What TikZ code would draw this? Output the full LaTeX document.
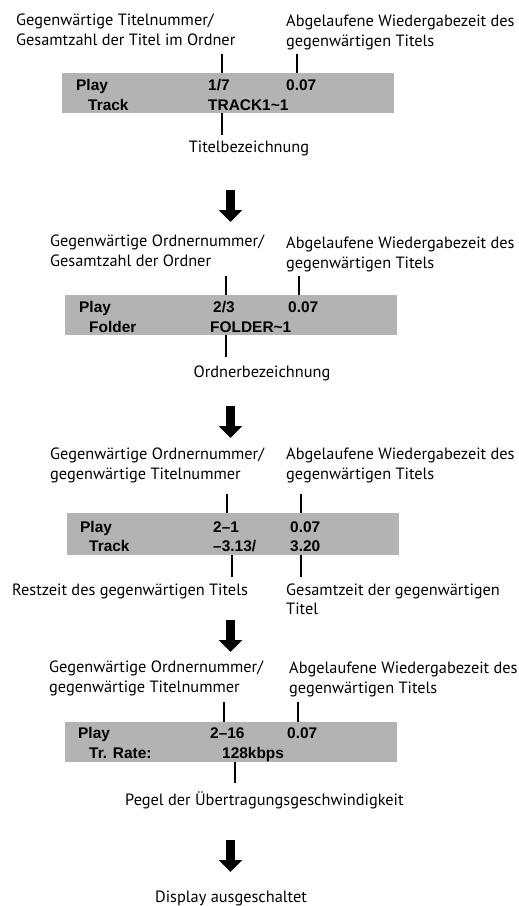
\documentclass[tikz,border=0pt]{standalone}
\usepackage{fontspec}
\usetikzlibrary{arrows.meta,positioning,calc}
\newfontfamily\lblfont{PT Sans}
\newfontfamily\lcdfont{Liberation Sans}
\definecolor{Panel}{HTML}{B3B3B3}

\begin{document}
\begin{tikzpicture}[x=1bp,y=-1bp,
  lbl/.style={anchor=base west,inner sep=0pt,font=\lblfont\fontsize{16.4}{20}\selectfont},
  lcd/.style={anchor=base west,inner sep=0pt,font=\lcdfont\bfseries\fontsize{15.5}{18}\selectfont},
  screen/.style={fill=Panel,draw=none,inner sep=0pt,anchor=north west,minimum width=332bp,minimum height=40bp},
  tick/.style={black,line width=1.2bp},
  flow/.style={line width=9bp,-{Triangle[length=12bp,width=23bp]}}]
  \useasboundingbox (0,0) rectangle (519,906);

  % display 1: track number
  \node[screen] (disp1) at (62,73) {};
  \node[lcd] (play1) at (76,90) {Play};
  \node[lcd] (mode1) at (88,110) {Track};
  \node[lcd] (num1) at (208,90) {1/7};
  \node[lcd] (time1) at (286,90) {0.07};
  \node[lcd] (name1) at (208,110) {TRACK1\textasciitilde1};
  \node[lbl] (numA1) at (16,25) {Gegenwärtige Titelnummer/};
  \node[lbl] (numB1) at (16,45) {Gesamtzahl der Titel im Ordner};
  \node[lbl] (timeA1) at (286,26) {Abgelaufene Wiedergabezeit des};
  \node[lbl] (timeB1) at (286,46) {gegenwärtigen Titels};
  \node[lbl,anchor=base] (nameL1) at (249,152) {Titelbezeichnung};
  \coordinate (k1a) at (222,54);
  \coordinate (k1b) at (297,54);
  \coordinate (k1c) at (222,135);
  \draw[tick] (k1a) -- (k1a |- disp1.north);
  \draw[tick] (k1b) -- (k1b |- disp1.north);
  \draw[tick] (disp1.south -| k1c) -- (k1c);

  \coordinate (a1s) at (230.5,190);
  \coordinate (a1e) at (230.5,222);
  \draw[flow] (a1s) -- (a1e);

  % display 2: folder number
  \node[screen] (disp2) at (65,295) {};
  \node[lcd] (play2) at (79,312) {Play};
  \node[lcd] (mode2) at (89,332) {Folder};
  \node[lcd] (num2) at (213,312) {2/3};
  \node[lcd] (time2) at (288,312) {0.07};
  \node[lcd] (name2) at (210,332) {FOLDER\textasciitilde1};
  \node[lbl] (numA2) at (50,246) {Gegenwärtige Ordnernummer/};
  \node[lbl] (numB2) at (50,266) {Gesamtzahl der Ordner};
  \node[lbl] (timeA2) at (286,248) {Abgelaufene Wiedergabezeit des};
  \node[lbl] (timeB2) at (286,268) {gegenwärtigen Titels};
  \node[lbl,anchor=base] (nameL2) at (262,377) {Ordnerbezeichnung};
  \coordinate (k2a) at (226,276);
  \coordinate (k2b) at (299,276);
  \coordinate (k2c) at (226,357);
  \draw[tick] (k2a) -- (k2a |- disp2.north);
  \draw[tick] (k2b) -- (k2b |- disp2.north);
  \draw[tick] (disp2.south -| k2c) -- (k2c);

  \coordinate (a2s) at (230.5,406);
  \coordinate (a2e) at (230.5,438);
  \draw[flow] (a2s) -- (a2e);

  % display 3: remaining and total time
  \node[screen,minimum height=42bp] (disp3) at (67,513) {};
  \node[lcd] (play3) at (80,532) {Play};
  \node[lcd] (mode3) at (89,551) {Track};
  \node[lcd] (num3) at (213,532) {2–1};
  \node[lcd] (time3) at (290,532) {0.07};
  \node[lcd] (rem3) at (213,551) {–3.13/};
  \node[lcd] (tot3) at (290,551) {3.20};
  \node[lbl] (numA3) at (50,459) {Gegenwärtige Ordnernummer/};
  \node[lbl] (numB3) at (50,479) {gegenwärtige Titelnummer};
  \node[lbl] (timeA3) at (286,459) {Abgelaufene Wiedergabezeit des};
  \node[lbl] (timeB3) at (286,479) {gegenwärtigen Titels};
  \node[lbl] (remL3) at (12,595) {Restzeit des gegenwärtigen Titels};
  \node[lbl] (totA3) at (286,595) {Gesamtzeit der gegenwärtigen};
  \node[lbl] (totB3) at (286,614) {Titel};
  \coordinate (k3a) at (227,494);
  \coordinate (k3b) at (301,494);
  \coordinate (k3c) at (232,577);
  \coordinate (k3d) at (301,577);
  \draw[tick] (k3a) -- (k3a |- disp3.north);
  \draw[tick] (k3b) -- (k3b |- disp3.north);
  \draw[tick] (disp3.south -| k3c) -- (k3c);
  \draw[tick] (disp3.south -| k3d) -- (k3d);

  \coordinate (a3s) at (230.5,620);
  \coordinate (a3e) at (230.5,652);
  \draw[flow] (a3s) -- (a3e);

  % display 4: transfer rate
  \node[screen] (disp4) at (65,722) {};
  \node[lcd] (play4) at (78,738) {Play};
  \node[lcd] (mode4) at (89,758) {Tr. Rate:};
  \node[lcd] (num4) at (210,738) {2–16};
  \node[lcd] (time4) at (287,738) {0.07};
  \node[lcd] (rate4) at (222,758) {128kbps};
  \node[lbl] (numA4) at (49,672) {Gegenwärtige Ordnernummer/};
  \node[lbl] (numB4) at (49,692) {gegenwärtige Titelnummer};
  \node[lbl] (timeA4) at (289,673) {Abgelaufene Wiedergabezeit des};
  \node[lbl] (timeB4) at (289,693) {gegenwärtigen Titels};
  \node[lbl] (rateL4) at (125,805) {Pegel der Übertragungsgeschwindigkeit};
  \coordinate (k4a) at (224,702);
  \coordinate (k4b) at (298,702);
  \coordinate (k4c) at (235,783);
  \draw[tick] (k4a) -- (k4a |- disp4.north);
  \draw[tick] (k4b) -- (k4b |- disp4.north);
  \draw[tick] (disp4.south -| k4c) -- (k4c);

  \coordinate (a4s) at (230.5,840);
  \coordinate (a4e) at (230.5,872);
  \draw[flow] (a4s) -- (a4e);
  \node[lbl,anchor=base] (offL) at (231,902) {Display ausgeschaltet};
\end{tikzpicture}
\end{document}
